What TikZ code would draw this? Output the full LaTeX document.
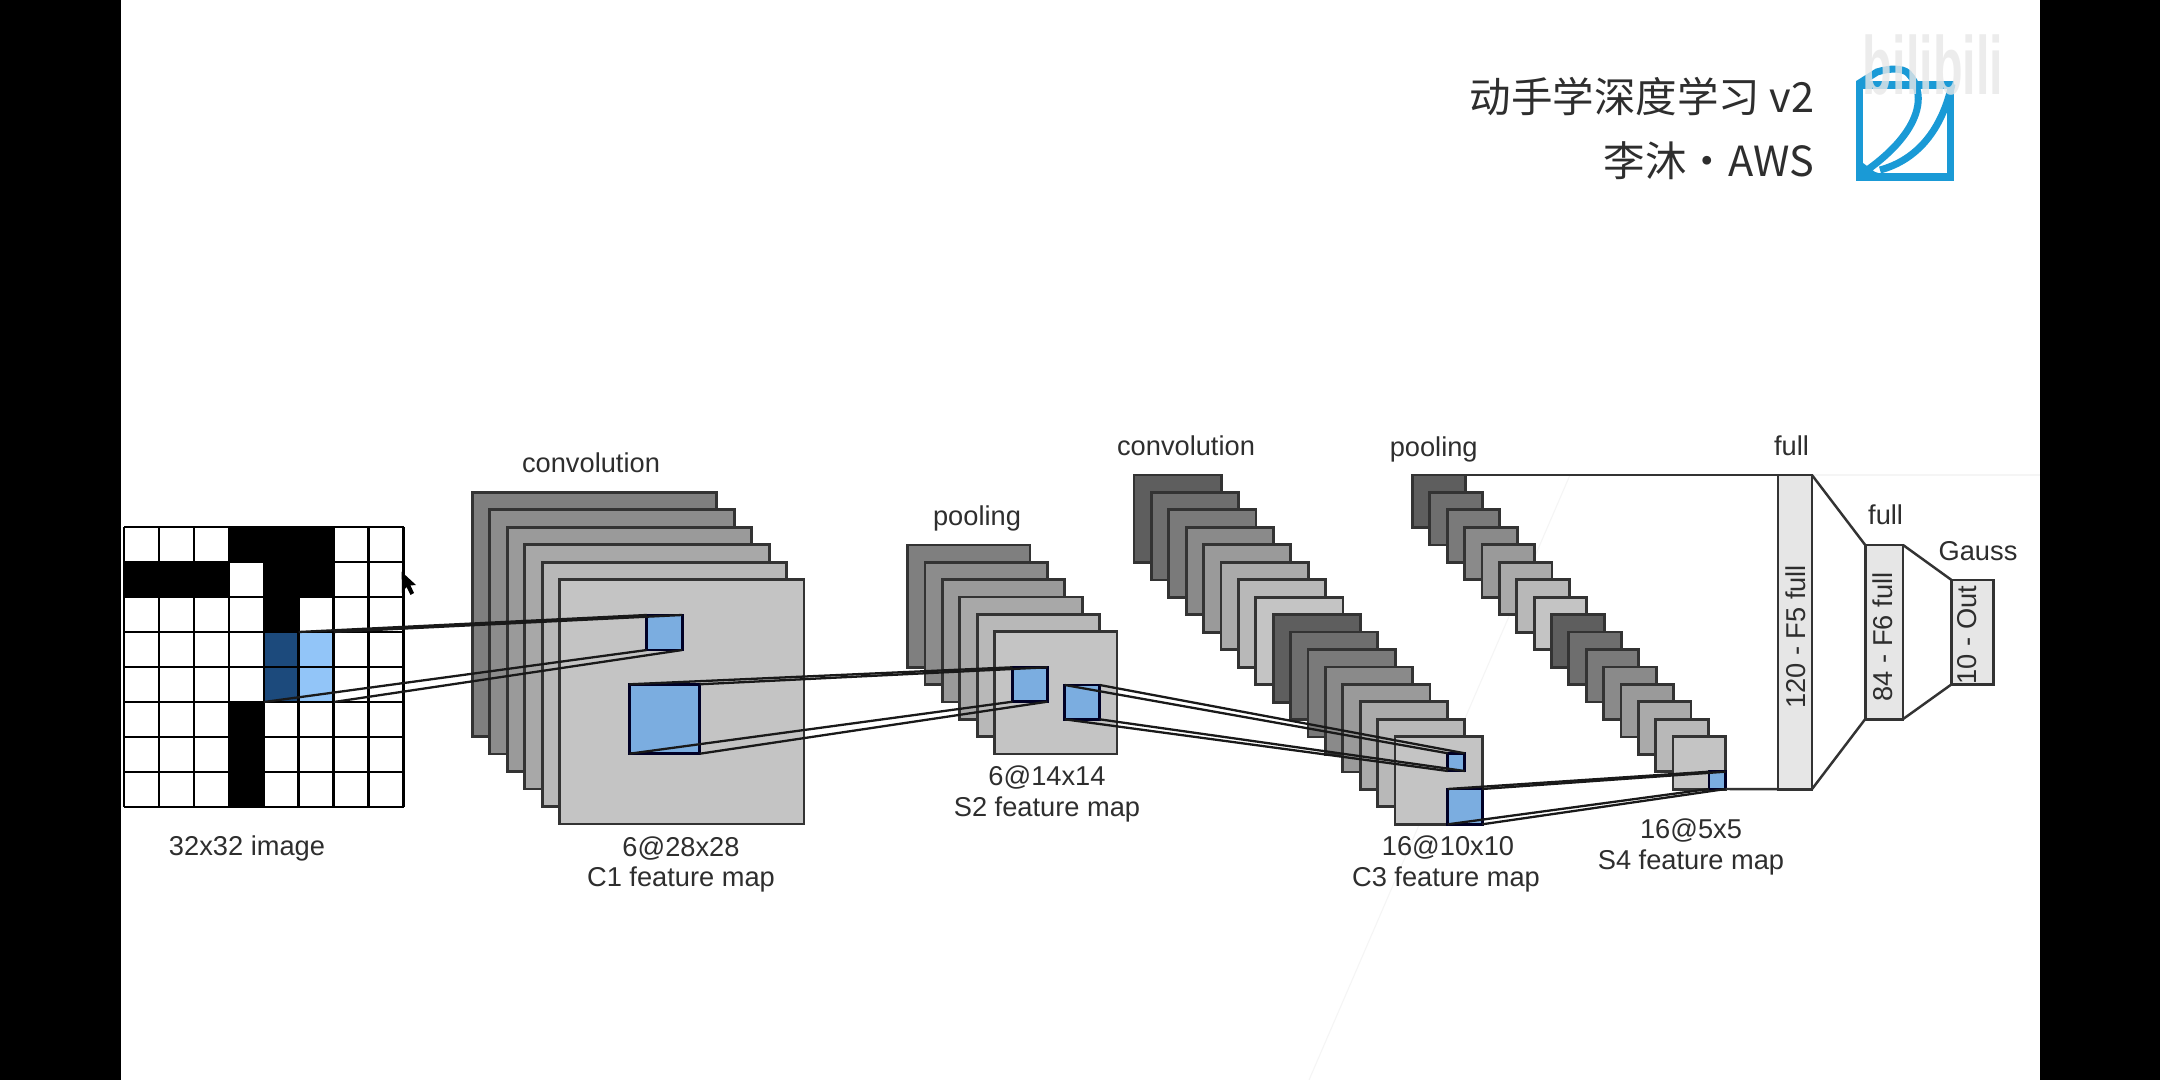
\documentclass[tikz,border=0pt]{standalone}
\usepackage{fontspec}
\setmainfont{Liberation Sans}
\newfontfamily\cjk{Noto Sans CJK SC}
\definecolor{patchblue}{HTML}{7BADE0}
\definecolor{darkcell}{HTML}{1C4A7C}
\definecolor{lightcell}{HTML}{92C5F8}
\definecolor{logoblue}{HTML}{1A9AD6}
\definecolor{inkgray}{HTML}{2E2E2E}
\definecolor{edgegray}{HTML}{333333}
\definecolor{fcgray}{HTML}{E6E6E6}
\begin{document}
\begin{tikzpicture}[x=0.01cm, y=-0.01cm,
sheet/.style = {draw=edgegray, line width=0.8pt, anchor=north west, inner sep=0pt, outer sep=0pt},
patch/.style = {draw=black!85!blue, line width=0.8pt, fill=patchblue, anchor=north west, inner sep=0pt, outer sep=0pt},
fcbox/.style = {draw=edgegray, line width=0.8pt, fill=fcgray, anchor=north west, inner sep=0pt, outer sep=0pt},
lab/.style = {text=inkgray, font=\fontsize{7.75}{9}\selectfont, align=center, inner sep=0pt},
fclab/.style = {lab, rotate=90},
link/.style = {black!90, line width=0.65pt},
fclink/.style = {edgegray, line width=0.7pt}]
\useasboundingbox (0,0) rectangle (2160,1080);
\fill[white] (0,0) rectangle (2160,1080);
\fill[black] (0,0) rectangle (120.7,1080);
\fill[black] (2040,0) rectangle (2160,1080);
\draw[black!4, line width=0.3pt] (1570,475) -- (1309,1080);
\draw[black!4, line width=0.3pt] (1812,475) -- (2040,475);

\fill[black] (228.8,527) rectangle (333.6,562);
\fill[black] (124,562) rectangle (228.8,597);
\fill[black] (263.8,562) rectangle (333.6,597);
\fill[black] (263.8,597) rectangle (298.7,632);
\fill[black] (228.8,702) rectangle (263.8,807);
\node[fill=darkcell, anchor=north west, minimum width=0.349cm, minimum height=0.7cm, inner sep=0pt, outer sep=0pt] (imgdark) at (263.8,632) {};
\node[fill=lightcell, anchor=north west, minimum width=0.349cm, minimum height=0.7cm, inner sep=0pt, outer sep=0pt] (imglight) at (298.7,632) {};
\foreach \i in {0,...,8} {
\draw[black, line width=0.7pt] (124+34.94*\i,527) -- (124+34.94*\i,807);
\draw[black, line width=0.7pt] (124,527+35*\i) -- (403.5,527+35*\i);
}
\fill[black] (401.6,571.7) -- (402,593) -- (406.5,587) -- (410.5,595) -- (414,593) -- (410.5,585.5) -- (416,585) -- cycle;

\foreach \g [count=\i from 0] in {127,140,154,168,184,196} {
\node[sheet, fill={rgb,255:red,\g;green,\g;blue,\g}, minimum width=2.443cm, minimum height=2.44cm] (conva\i) at (472.4+17.44*\i,492.3+17.5*\i) {};
}
\foreach \g [count=\i from 0] in {127,140,154,168,184,196} {
\node[sheet, fill={rgb,255:red,\g;green,\g;blue,\g}, minimum width=1.223cm, minimum height=1.223cm] (poola\i) at (907.6+17.4*\i,545+17.34*\i) {};
}
\foreach \g [count=\i from 0] in {94,110,122,138,154,170,184,196,94,110,122,138,154,170,184,196} {
\node[sheet, fill={rgb,255:red,\g;green,\g;blue,\g}, minimum width=0.872cm, minimum height=0.875cm] (convb\i) at (1133.9+17.4*\i,475+17.45*\i) {};
}
\foreach \g [count=\i from 0] in {94,110,122,138,154,170,184,196,94,110,122,138,154,170,184,196} {
\node[sheet, fill={rgb,255:red,\g;green,\g;blue,\g}, minimum width=0.526cm, minimum height=0.525cm] (poolb\i) at (1412.5+17.37*\i,475+17.45*\i) {};
}

\node[patch, minimum width=0.354cm, minimum height=0.35cm] (p1) at (646.8,615) {};
\node[patch, minimum width=0.702cm, minimum height=0.694cm] (p2) at (629.4,684.3) {};
\node[patch, minimum width=0.348cm, minimum height=0.344cm] (p3) at (1012.5,667.3) {};
\node[patch, minimum width=0.349cm, minimum height=0.343cm] (p4) at (1064.7,685) {};
\node[patch, minimum width=0.169cm, minimum height=0.177cm] (p5) at (1447.8,753.3) {};
\node[patch, minimum width=0.343cm, minimum height=0.353cm] (p6) at (1447.8,789) {};
\node[patch, minimum width=0.166cm, minimum height=0.173cm] (p7) at (1709,771.7) {};

\draw[link] (imglight.north west) -- (p1.north west);
\draw[link] (imglight.north east) -- (p1.north east);
\draw[link] (imgdark.south west) -- (p1.south west);
\draw[link] (imglight.south east) -- (p1.south east);
\draw[link] (p2.north west) -- (p3.north west);
\draw[link] (p2.north east) -- (p3.north east);
\draw[link] (p2.south west) -- (p3.south west);
\draw[link] (p2.south east) -- (p3.south east);
\draw[link] (p4.north west) -- (p5.north west);
\draw[link] (p4.north east) -- (p5.north east);
\draw[link] (p4.south west) -- (p5.south west);
\draw[link] (p4.south east) -- (p5.south east);
\draw[link] (p6.north west) -- (p7.north west);
\draw[link] (p6.north east) -- (p7.north east);
\draw[link] (p6.south west) -- (p7.south west);
\draw[link] (p6.south east) -- (p7.south east);

\node[fcbox, minimum width=0.339cm, minimum height=3.14cm] (f5) at (1778,475) {};
\node[fcbox, minimum width=0.378cm, minimum height=1.74cm] (f6) at (1865.2,545) {};
\node[fcbox, minimum width=0.42cm, minimum height=1.043cm] (out) at (1951.5,580) {};
\draw[fclink] (poolb0.north east) -- (f5.north west);
\draw[fclink] (p7.south east) -- (f5.south west);
\draw[fclink] (f5.north east) -- (f6.north west);
\draw[fclink] (f5.south east) -- (f6.south west);
\draw[fclink] (f6.north east) -- (out.north west);
\draw[fclink] (f6.south east) -- (out.south west);

\node[fclab] (f5lab) at (1796,637) {120 - F5 full};
\node[fclab] (f6lab) at (1882.5,637) {84 - F6 full};
\node[fclab] (outlab) at (1967,635) {10 - Out};

\node[lab] (l1) at (591,463) {convolution};
\node[lab] (l2) at (977,518) {pooling};
\node[lab] (l3) at (1186,446) {convolution};
\node[lab] (l4) at (1433.7,449) {pooling};
\node[lab] (l5) at (1791.5,446) {full};
\node[lab] (l6) at (1885.6,515) {full};
\node[lab] (l7) at (1978,551) {Gauss};
\node[lab] (l8) at (247,848.5) {32x32 image};
\node[lab] (l9) at (681,848.5) {6@28x28};
\node[lab] (l10) at (681,879.5) {C1 feature map};
\node[lab] (l11) at (1047,778) {6@14x14};
\node[lab] (l12) at (1047,809.5) {S2 feature map};
\node[lab] (l13) at (1448,847.5) {16@10x10};
\node[lab] (l14) at (1446,879.5) {C3 feature map};
\node[lab] (l15) at (1691,830.5) {16@5x5};
\node[lab] (l16) at (1691,862.5) {S4 feature map};

\node[text=inkgray, font=\cjk\fontsize{11.8}{13}\selectfont, anchor=east, inner sep=0pt] (title) at (1815,97) {动手学深度学习 v2};
\node[text=inkgray, font=\cjk\fontsize{11.8}{13}\selectfont, anchor=east, inner sep=0pt] (author) at (1815,161) {李沐・AWS};

\draw[logoblue, line width=2pt] (1859,85) rectangle (1950,177);
\fill[logoblue] (1859,160) -- (1859,177) -- (1892,177) -- (1875,172) -- cycle;
\draw[logoblue, line width=2pt, line join=round] (1858,84) -- (1877,72) .. controls (1890,68) and (1902,68) .. (1908,73) .. controls (1929,95) and (1920,135) .. (1860,175);
\draw[logoblue, line width=2pt] (1880,170) .. controls (1917,160) and (1942,130) .. (1952,84);
\node[text=black!9, opacity=0.8, font=\bfseries\fontsize{13.8}{15}\selectfont, yscale=1.7, inner sep=0pt] (wmark) at (1933,65) {bilibili};
\end{tikzpicture}
\end{document}
